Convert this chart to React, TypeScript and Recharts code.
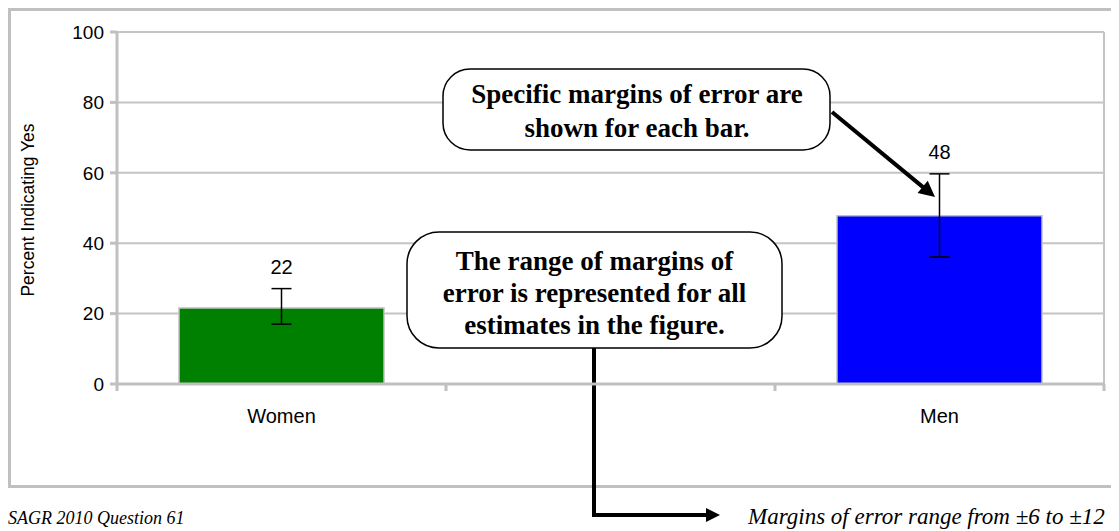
import React from "react";
import {
  BarChart,
  Bar,
  XAxis,
  YAxis,
  CartesianGrid,
  ErrorBar,
  LabelList,
  Cell,
  Customized,
} from "recharts";

// Survey share answering "yes", by group (middle slot is an empty category)
const categories = ["Women", "", "Men"];
const percentYes: (number | null)[] = [21.6, null, 47.8];
const errorLow = [4.6, 0, 11.7];
const errorHigh = [5.5, 0, 11.9];
const barColors = ["#008000", "#ffffff", "#0000ff"];
const yTicks = [0, 20, 40, 60, 80, 100];

const calloutTop = ["Specific margins of error are", "shown for each bar."];
const calloutMid = [
  "The range of margins of",
  "error is represented for all",
  "estimates in the figure.",
];
const sourceNote = "SAGR 2010 Question 61";
const rangeNote = "Margins of error range from \u00b16 to \u00b112";

const data = categories.map((name, i) => ({
  name,
  value: percentYes[i],
  err: percentYes[i] == null ? null : [errorLow[i], errorHigh[i]],
}));

const SANS = "'Liberation Sans', Arial, sans-serif";
const SERIF = "'Liberation Serif', 'Times New Roman', serif";
const GRID = "#c4c4c4";
const AXIS = "#c0c0c0";

const W = 1111;
const H = 523;
const MARGIN = { top: 24, right: 15, left: 0, bottom: 107 };
const HALF_BAND = 164.5;

function XTick(props: any) {
  const { x, y, payload, index } = props;
  return (
    <g>
      <line x1={x - HALF_BAND} y1={y} x2={x - HALF_BAND} y2={y + 7} stroke={AXIS} strokeWidth={3} />
      {index === categories.length - 1 && (
        <line x1={x + HALF_BAND} y1={y} x2={x + HALF_BAND} y2={y + 7} stroke={AXIS} strokeWidth={3} />
      )}
      <text x={x} y={y + 39} textAnchor="middle" fontFamily={SANS} fontSize={20} fill="#000">
        {payload.value}
      </text>
    </g>
  );
}

function YLabel(props: any) {
  const { viewBox } = props;
  const cx = 20;
  const cy = viewBox.y + viewBox.height / 2 + 2;
  return (
    <text
      x={cx}
      y={cy}
      transform={`rotate(-90 ${cx} ${cy})`}
      textAnchor="middle"
      dominantBaseline="central"
      fontFamily={SANS}
      fontSize={17.5}
      fill="#000"
    >
      Percent Indicating Yes
    </text>
  );
}

function ValueLabel(props: any) {
  const { x, y, width, height, value } = props;
  if (value == null) return null;
  // look the error up by value: LabelList indices skip the empty category
  const i = percentYes.indexOf(value);
  const perUnit = height / value;
  const errTop = y - errorHigh[i] * perUnit;
  return (
    <text
      x={x + width / 2}
      y={errTop - 22}
      textAnchor="middle"
      dominantBaseline="central"
      fontFamily={SANS}
      fontSize={20}
      fill="#000"
    >
      {Math.round(value)}
    </text>
  );
}

function arrowHead(x1: number, y1: number, x2: number, y2: number, len = 16, half = 8) {
  const dx = x2 - x1;
  const dy = y2 - y1;
  const d = Math.hypot(dx, dy);
  const ux = dx / d;
  const uy = dy / d;
  const bx = x2 - ux * len;
  const by = y2 - uy * len;
  const pts = `${x2},${y2} ${bx - uy * half},${by + ux * half} ${bx + uy * half},${by - ux * half}`;
  return { bx: x2 - ux * (len - 2), by: y2 - uy * (len - 2), pts };
}

function Annotations() {
  const a1 = arrowHead(824, 104, 927, 189);
  const a2 = arrowHead(586, 507, 712, 507, 14, 7);
  const plotRight = W - MARGIN.right;
  return (
    <g>
      <rect x={1.5} y={1.5} width={W + 40} height={477} fill="none" stroke={AXIS} strokeWidth={3} />
      {/* right edge of the plot area */}
      <line x1={plotRight} y1={MARGIN.top} x2={plotRight} y2={376} stroke={GRID} strokeWidth={2} />

      <rect x={435} y={61} width={387} height={81} rx={27} ry={27} fill="#fff" stroke="#000" strokeWidth={1.5} />
      {calloutTop.map((t, i) => (
        <text
          key={t}
          x={629}
          y={95 + i * 34}
          textAnchor="middle"
          fontFamily={SERIF}
          fontWeight="bold"
          fontSize={27}
          fill="#000"
        >
          {t}
        </text>
      ))}
      <line x1={824} y1={104} x2={a1.bx} y2={a1.by} stroke="#000" strokeWidth={4} />
      <polygon points={a1.pts} fill="#000" />

      <rect x={399} y={224} width={375} height={116} rx={32} ry={32} fill="#fff" stroke="#000" strokeWidth={1.5} />
      {calloutMid.map((t, i) => (
        <text
          key={t}
          x={586.5}
          y={262 + i * 32}
          textAnchor="middle"
          fontFamily={SERIF}
          fontWeight="bold"
          fontSize={27}
          fill="#000"
        >
          {t}
        </text>
      ))}
      <polyline
        points={`586,340 586,507 ${a2.bx},507`}
        fill="none"
        stroke="#000"
        strokeWidth={4}
      />
      <polygon points={a2.pts} fill="#000" />

      <text x={0} y={516} fontFamily={SERIF} fontStyle="italic" fontSize={18} fill="#000">
        {sourceNote}
      </text>
      <text x={740} y={516} fontFamily={SERIF} fontStyle="italic" fontSize={23} fill="#000">
        {rangeNote}
      </text>
    </g>
  );
}

export default function App() {
  return (
    <div style={{ width: W, height: H }}>
      <BarChart width={W} height={H} data={data} margin={MARGIN}>
        <CartesianGrid horizontal vertical={false} stroke={GRID} strokeWidth={2} />
        <XAxis
          dataKey="name"
          height={40}
          axisLine={{ stroke: AXIS, strokeWidth: 3 }}
          tickLine={false}
          tickSize={0}
          tickMargin={0}
          tick={<XTick />}
          interval={0}
        />
        <YAxis
          width={109}
          domain={[0, 100]}
          ticks={yTicks}
          interval={0}
          axisLine={{ stroke: AXIS, strokeWidth: 3 }}
          tickLine={{ stroke: AXIS, strokeWidth: 3 }}
          tickSize={7}
          tickMargin={6}
          tick={{ fontFamily: SANS, fontSize: 19, fill: "#000" }}
          label={<YLabel />}
        />
        <Bar
          dataKey="value"
          barSize={205}
          stroke={AXIS}
          strokeWidth={1.5}
          isAnimationActive={false}
        >
          {data.map((d, i) => (
            <Cell key={i} fill={barColors[i]} />
          ))}
          <ErrorBar dataKey="err" width={10} stroke="#000" strokeWidth={1.5} direction="y" isAnimationActive={false} />
          <LabelList dataKey="value" content={<ValueLabel />} />
        </Bar>
        <Customized component={<Annotations />} />
      </BarChart>
    </div>
  );
}
